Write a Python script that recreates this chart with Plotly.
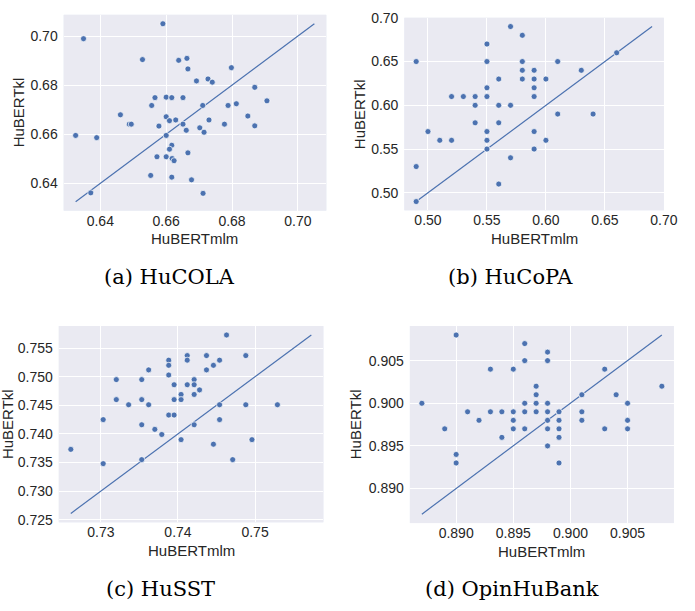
import plotly.graph_objects as go

W, H = 695, 611

# ---------------- data ----------------
# (a) HuCOLA
cola_mlm = [0.6590,0.6349,0.6528,0.6638,0.6663,0.6666,0.6798,0.6692,0.6727,0.6740,
            0.6869,0.6566,0.6600,0.6617,0.6651,0.6556,0.6711,0.6788,0.6813,0.6906,
            0.6461,0.6488,0.6494,0.6600,0.6610,0.6629,0.6578,0.6651,0.6661,0.6702,
            0.6715,0.6730,0.6777,0.6848,0.6869,0.6325,0.6389,0.6600,0.6617,0.6610,
            0.6572,0.6600,0.6618,0.6624,0.6666,0.6553,0.6617,0.6677,0.6371,0.6712]
cola_kl = [0.7050,0.6989,0.6904,0.6901,0.6909,0.6866,0.6871,0.6817,0.6825,0.6812,
           0.6791,0.6749,0.6751,0.6749,0.6749,0.6717,0.6717,0.6717,0.6724,0.6736,
           0.6679,0.6641,0.6641,0.6671,0.6655,0.6658,0.6633,0.6641,0.6616,0.6626,
           0.6608,0.6658,0.6641,0.6674,0.6634,0.6595,0.6586,0.6595,0.6555,0.6539,
           0.6508,0.6508,0.6501,0.6492,0.6524,0.6432,0.6425,0.6414,0.6361,0.6359]

# (b) HuCoPA
copa_mlm = [0.49,0.49,0.49,0.50,0.51,0.52,0.52,0.53,0.54,0.54,0.54,0.55,0.55,0.55,
            0.55,0.55,0.55,0.55,0.56,0.56,0.56,0.56,0.57,0.57,0.57,0.58,0.58,0.58,
            0.58,0.59,0.59,0.59,0.59,0.59,0.59,0.60,0.60,0.61,0.61,0.63,0.64,0.66]
copa_kl = [0.65,0.53,0.49,0.57,0.56,0.61,0.56,0.61,0.61,0.60,0.58,0.67,0.65,0.62,
           0.61,0.57,0.56,0.55,0.63,0.60,0.58,0.51,0.69,0.60,0.54,0.68,0.65,0.64,
           0.63,0.64,0.63,0.62,0.61,0.57,0.55,0.63,0.56,0.65,0.59,0.64,0.59,0.66]

# (c) HuSST
sst_mlm = [0.7463,0.7412,0.7437,0.7488,0.7388,0.7412,0.7454,0.7388,0.7446,0.7362,
           0.7437,0.7388,0.7320,0.7353,0.7421,0.7395,0.7412,0.7421,0.7428,0.7404,
           0.7421,0.7320,0.7353,0.7395,0.7404,0.7336,0.7362,0.7454,0.7488,0.7529,
           0.7303,0.7388,0.7395,0.7454,0.7353,0.7421,0.7370,0.7379,0.7404,0.7496,
           0.7446,0.7261,0.7303,0.7353,0.7471]
sst_kl = [0.7573,0.7537,0.7537,0.7537,0.7529,0.7529,0.7529,0.7520,0.7520,0.7512,
          0.7512,0.7503,0.7495,0.7495,0.7495,0.7486,0.7486,0.7486,0.7477,0.7469,
          0.7469,0.7460,0.7460,0.7460,0.7460,0.7451,0.7451,0.7451,0.7451,0.7451,
          0.7425,0.7433,0.7433,0.7425,0.7416,0.7416,0.7408,0.7399,0.7390,0.7390,
          0.7382,0.7373,0.7348,0.7355,0.7355]

# (d) OpinHuBank
opin_mlm = [0.887,0.889,0.890,0.890,0.890,0.891,0.892,0.893,0.893,0.894,0.894,0.895,
            0.895,0.895,0.895,0.896,0.896,0.896,0.896,0.896,0.897,0.897,0.897,0.897,
            0.898,0.898,0.898,0.898,0.898,0.898,0.898,0.899,0.899,0.899,0.899,0.899,
            0.901,0.901,0.901,0.903,0.903,0.904,0.905,0.905,0.905,0.908]
opin_kl = [0.900,0.897,0.908,0.894,0.893,0.899,0.898,0.904,0.899,0.899,0.896,0.904,
           0.899,0.898,0.897,0.907,0.905,0.900,0.899,0.897,0.902,0.901,0.900,0.899,
           0.906,0.905,0.900,0.899,0.898,0.897,0.895,0.899,0.898,0.897,0.896,0.893,
           0.901,0.899,0.898,0.904,0.897,0.901,0.900,0.898,0.897,0.902]

captions = ["(a) HuCOLA", "(b) HuCoPA", "(c) HuSST", "(d) OpinHuBank"]
x_ticks = [[0.64, 0.66, 0.68, 0.70], [0.50, 0.55, 0.60, 0.65, 0.70],
           [0.73, 0.74, 0.75], [0.890, 0.895, 0.900, 0.905]]
y_ticks = [[0.64, 0.66, 0.68, 0.70], [0.50, 0.55, 0.60, 0.65, 0.70],
           [0.725, 0.730, 0.735, 0.740, 0.745, 0.750, 0.755], [0.890, 0.895, 0.900, 0.905]]
x_fmt = [".2f", ".2f", ".2f", ".3f"]
y_fmt = [".2f", ".2f", ".3f", ".3f"]
x_label = "HuBERTmlm"
y_label = "HuBERTkl"

datasets = [(cola_mlm, cola_kl), (copa_mlm, copa_kl), (sst_mlm, sst_kl), (opin_mlm, opin_kl)]

# ---------------- layout (pixel boxes) ----------------
# plot boxes: left, right, top, bottom (px)
boxes = [(65, 333, 7, 207), (412.7, 677.5, 10, 206.7),
         (60, 330, 325, 525.5), (418.3, 687.7, 325, 526.3)]
ytitle_x = [19, 366.5, 7, 363]
caption_pos = [(173, 275), (521, 275), (164, 594), (523, 594)]

BLUE = "#4C72B0"
BG = "#EAEAF2"
TXT = "#262626"
SANS = "Liberation Sans, Arial, sans-serif"

fig = go.Figure()
layout = dict(width=W, height=H, margin=dict(l=0, r=0, t=0, b=0),
              paper_bgcolor="white", showlegend=False, annotations=[], shapes=[])

def px(xp):
    return xp / W

def py(yp):
    return 1 - yp / H

for i, (xs, ys) in enumerate(datasets):
    n = i + 1
    xa = "x" if n == 1 else f"x{n}"
    ya = "y" if n == 1 else f"y{n}"
    lo = min(min(xs), min(ys))
    hi = max(max(xs), max(ys))
    pad = (hi - lo) * 0.05
    rng = [lo - pad, hi + pad]

    fig.add_trace(go.Scatter(x=[lo, hi], y=[lo, hi], mode="lines",
                             line=dict(color=BLUE, width=1.2),
                             xaxis=xa, yaxis=ya, hoverinfo="skip"))
    fig.add_trace(go.Scatter(x=xs, y=ys, mode="markers",
                             marker=dict(color=BLUE, size=6,
                                         line=dict(color="white", width=0.7)),
                             xaxis=xa, yaxis=ya))

    l, r, t, b = boxes[i]
    common = dict(showgrid=True, gridcolor="white", gridwidth=1.3, zeroline=False,
                  showline=False, ticks="",
                  tickfont=dict(family=SANS, size=14, color=TXT),
                  range=rng, fixedrange=True)
    layout["xaxis" if n == 1 else f"xaxis{n}"] = dict(
        common, domain=[px(l), px(r)], anchor=ya, tickvals=x_ticks[i],
        tickformat=x_fmt[i], ticklabelstandoff=0)
    layout["yaxis" if n == 1 else f"yaxis{n}"] = dict(
        common, domain=[py(b), py(t)], anchor=xa, tickvals=y_ticks[i],
        tickformat=y_fmt[i], ticklabelstandoff=5)

    layout["shapes"].append(dict(
        type="rect", xref="paper", yref="paper", x0=px(l), x1=px(r), y0=py(b), y1=py(t),
        fillcolor=BG, line=dict(width=0), layer="below"))

    layout["annotations"].append(dict(
        text=x_label, xref="paper", yref="paper", x=px((l + r) / 2), y=py(b + 29),
        xanchor="center", yanchor="middle", showarrow=False,
        font=dict(family=SANS, size=15, color=TXT)))
    layout["annotations"].append(dict(
        text=y_label, xref="paper", yref="paper", x=px(ytitle_x[i]), y=py((t + b) / 2),
        xanchor="center", yanchor="middle", showarrow=False, textangle=-90,
        font=dict(family=SANS, size=15, color=TXT)))
    cx, cy = caption_pos[i]
    layout["annotations"].append(dict(
        text=captions[i], xref="paper", yref="paper", x=px(cx), y=py(cy),
        xanchor="center", yanchor="middle", showarrow=False,
        font=dict(family="DejaVu Serif, serif", size=21, color="black")))

fig.update_layout(**layout)
fig.write_html("out.html", config={"displayModeBar": False},
               post_script="document.body.style.margin='0';document.body.style.overflow='hidden';")
